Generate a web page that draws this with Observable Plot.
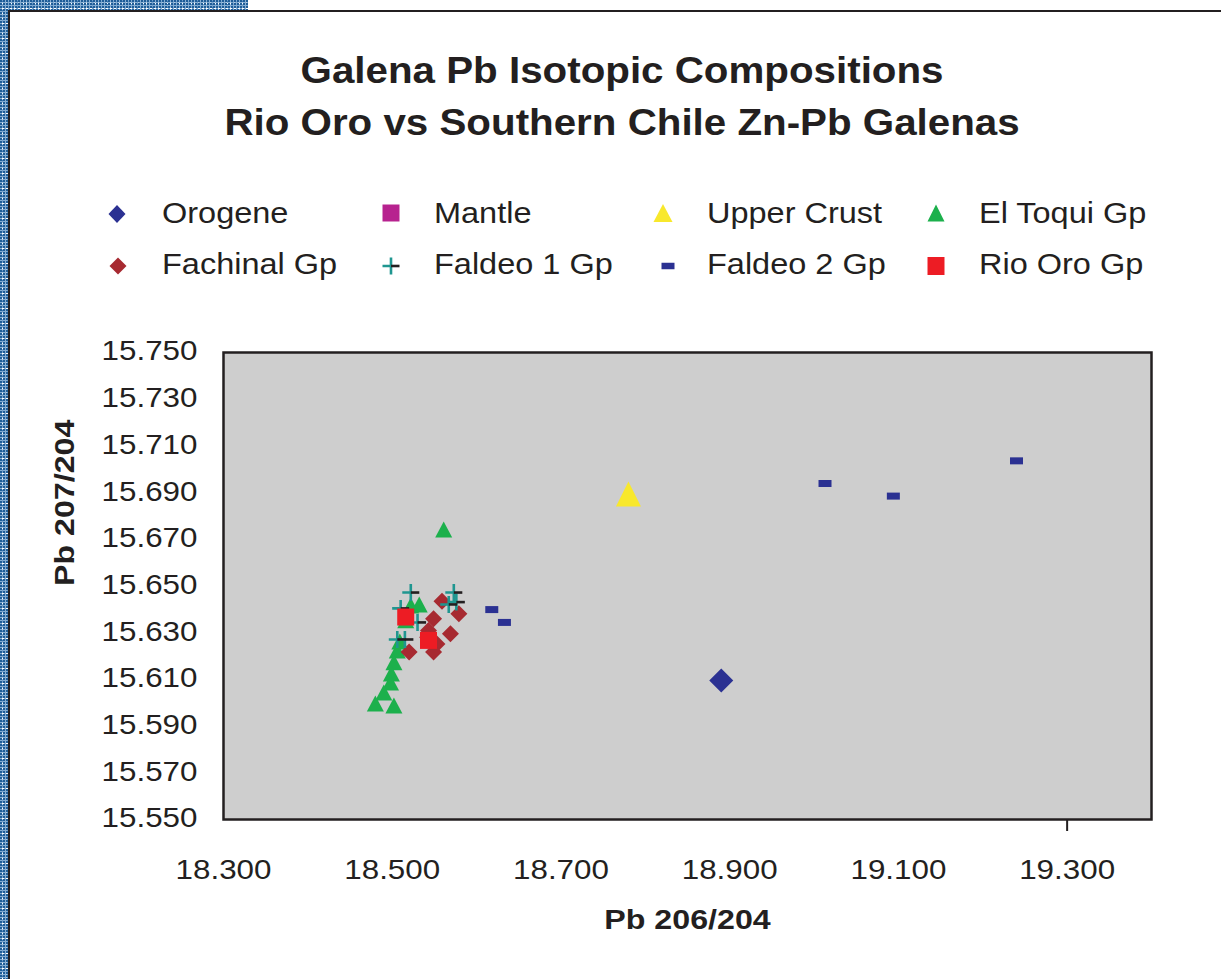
<!DOCTYPE html>
<html>
<head>
<meta charset="utf-8">
<script src="https://cdn.jsdelivr.net/npm/d3@7"></script>
<script src="https://cdn.jsdelivr.net/npm/@observablehq/plot@0.6"></script>
<style>
  html, body { margin: 0; padding: 0; background: #fff; }
  body { width: 1221px; height: 979px; position: relative; overflow: hidden;
         font-family: "Liberation Sans", Arial, Helvetica, sans-serif; color: #231f20; }
  .tex { position: absolute; background-color: #86aed3;
         background-image:
           radial-gradient(circle at 30% 30%, #1f5d98 0.9px, transparent 1.3px),
           radial-gradient(circle at 70% 70%, #ffffff 0.8px, transparent 1.2px),
           radial-gradient(circle at 50% 50%, #3d78b0 0.7px, transparent 1.1px);
         background-size: 3px 3px, 4px 5px, 5px 3px; }
  #texTop { left: 0; top: 0; width: 248px; height: 10px; }
  #texLeft { left: 0; top: 0; width: 9px; height: 979px; }
  #page { position: absolute; left: 8px; top: 10px; right: -5px; bottom: -5px;
          border-top: 2.5px solid #231f20; border-left: 2.5px solid #231f20; background: #fff; }
  #header { position: absolute; left: 0; top: 0; width: 1221px; height: 330px; }
  .tline { position: absolute; left: 11.5px; width: 1221px; text-align: center;
           font-size: 36px; line-height: 36px; font-weight: bold; white-space: nowrap; }
  .tline span { display: inline-block; transform: scaleX(1.12); transform-origin: 50% 50%; }
  .lg-text { position: absolute; font-size: 29px; line-height: 29px; white-space: nowrap;
             transform: scaleX(1.12); transform-origin: 0 50%; }
  .lg-icon { position: absolute; width: 30px; height: 30px; overflow: visible; }
  #chart { position: absolute; left: 0; top: 330px; }
</style>
</head>
<body>
<div class="tex" id="texTop"></div>
<div class="tex" id="texLeft"></div>
<div id="page"></div>
<div id="header"></div>
<div id="chart"></div>
<script>
// ---------- Data ----------
const titleLines = ["Galena Pb Isotopic Compositions", "Rio Oro vs Southern Chile Zn-Pb Galenas"];
const xLabel = "Pb 206/204";
const yLabel = "Pb 207/204";
const xTicks = [18.3, 18.5, 18.7, 18.9, 19.1, 19.3];
const yTicks = [15.55, 15.57, 15.59, 15.61, 15.63, 15.65, 15.67, 15.69, 15.71, 15.73, 15.75];
const seriesNames = ["Orogene", "Mantle", "Upper Crust", "El Toqui Gp",
                     "Fachinal Gp", "Faldeo 1 Gp", "Faldeo 2 Gp", "Rio Oro Gp"];

const orogeneX = [18.890];
const orogeneY = [15.6095];

const mantleX = [];
const mantleY = [];

const upperCrustX = [18.780];
const upperCrustY = [15.6894];

const elToquiX = [18.561, 18.532, 18.522, 18.516, 18.509, 18.506, 18.502, 18.499, 18.498, 18.490, 18.480, 18.502];
const elToquiY = [15.6742, 15.6421, 15.6417, 15.6353, 15.6262, 15.6224, 15.6173, 15.6125, 15.6087, 15.6044, 15.5997, 15.5988];

const fachinalX = [18.559, 18.579, 18.549, 18.543, 18.569, 18.542, 18.553, 18.549, 18.520];
const fachinalY = [15.6435, 15.6381, 15.6360, 15.6309, 15.6295, 15.6281, 15.6252, 15.6217, 15.6217];

const faldeo1X = [18.522, 18.573, 18.567, 18.576, 18.510, 18.530, 18.506, 18.515];
const faldeo1Y = [15.6472, 15.6472, 15.6421, 15.6431, 15.6404, 15.6344, 15.6271, 15.6271];

const faldeo2X = [19.013, 19.094, 19.240, 18.618, 18.633];
const faldeo2Y = [15.6939, 15.6885, 15.7036, 15.6399, 15.6344];

const rioOroX = [18.516, 18.543];
const rioOroY = [15.6367, 15.6267];

// ---------- Marker shapes (fixed pixel sizes) ----------
const diamond = (w, h) => ({draw(c) { c.moveTo(0, -h / 2); c.lineTo(w / 2, 0); c.lineTo(0, h / 2); c.lineTo(-w / 2, 0); c.closePath(); }});
const box = (w, h) => ({draw(c) { c.moveTo(-w / 2, -h / 2); c.lineTo(w / 2, -h / 2); c.lineTo(w / 2, h / 2); c.lineTo(-w / 2, h / 2); c.closePath(); }});
const tri = (w, h) => ({draw(c) { c.moveTo(0, -h / 2); c.lineTo(w / 2, h / 2); c.lineTo(-w / 2, h / 2); c.closePath(); }});
const plusLeft = (l) => ({draw(c) { c.moveTo(0, -l / 2); c.lineTo(0, l / 2); c.moveTo(-l / 2, 0); c.lineTo(0, 0); }});
const dashRight = (l) => ({draw(c) { c.moveTo(0, 0); c.lineTo(l / 2, 0); }});

const C = {
  orogene: "#2b3192", mantle: "#b7228f", upper: "#f8e82c", toqui: "#1cb04c",
  fachinal: "#a72a31", faldeo1: "#1f9690", faldeo2: "#2b3192", rio: "#ed1c24", ink: "#231f20"
};

const pts = (xs, ys) => xs.map((x, i) => ({x, y: ys[i]}));
const filled = (xs, ys, sym, color) => Plot.dot(pts(xs, ys), {x: "x", y: "y", symbol: sym, fill: color, stroke: "none"});
const stroked = (xs, ys, sym, color) => Plot.dot(pts(xs, ys), {x: "x", y: "y", symbol: sym, fill: "none", stroke: color, strokeWidth: 2.6});

const fmt = d => d.toFixed(3);

const chart = Plot.plot({
  width: 1221,
  height: 640,
  marginTop: 22,
  marginLeft: 223,
  marginRight: 70,
  marginBottom: 151,
  style: {background: "transparent", fontFamily: "Liberation Sans, Arial, sans-serif", fontSize: "28px", color: C.ink, overflow: "visible"},
  x: {domain: [18.3, 19.4]},
  y: {domain: [15.55, 15.75]},
  marks: [
    Plot.frame({fill: "#cecece", stroke: C.ink, strokeWidth: 2.5}),
    Plot.axisY(yTicks, {tickFormat: fmt, tickSize: 0, tickPadding: 26, fontSize: 28, dy: -1, label: null, fill: C.ink}),
    Plot.axisX(xTicks, {tickFormat: fmt, tickSize: 0, tickPadding: 40, fontSize: 28, label: null, fill: C.ink}),
    Plot.axisX([19.3], {tickSize: 12, tickFormat: () => "", stroke: C.ink, strokeWidth: 2, label: null}),
    filled(orogeneX, orogeneY, diamond(24, 24), C.orogene),
    filled(mantleX, mantleY, box(17, 17), C.mantle),
    filled(upperCrustX, upperCrustY, tri(25, 25), C.upper),
    filled(elToquiX, elToquiY, tri(17, 16), C.toqui),
    filled(fachinalX, fachinalY, diamond(17, 17), C.fachinal),
    stroked(faldeo1X, faldeo1Y, plusLeft(17), C.faldeo1),
    stroked(faldeo1X, faldeo1Y, dashRight(17), C.ink),
    filled(faldeo2X, faldeo2Y, box(13, 7), C.faldeo2),
    filled(rioOroX, rioOroY, box(17, 17), C.rio),
    Plot.text([xLabel], {frameAnchor: "bottom", dy: 109, fontWeight: "bold", fontSize: 28, fill: C.ink}),
    Plot.text([yLabel], {frameAnchor: "left", rotate: -90, dx: -158, fontWeight: "bold", fontSize: 28, fill: C.ink})
  ]
});

// widen glyphs slightly to match the reference's horizontally stretched type
chart.querySelectorAll("text").forEach(t => {
  const tr = t.getAttribute("transform");
  const isLabel = t.textContent === xLabel || t.textContent === yLabel;
  const s = isLabel ? 1.15 : 1.12;
  if (tr !== null) t.setAttribute("transform", tr + ` scale(${s},1)`);
  else {
    const x = +(t.getAttribute("x") || 0), y = +(t.getAttribute("y") || 0);
    t.setAttribute("transform", `translate(${x},${y}) scale(${s},1) translate(${-x},${-y})`);
  }
});
document.getElementById("chart").appendChild(chart);

// ---------- Header: title + legend ----------
const header = document.getElementById("header");
[52.5, 104.5].forEach((top, i) => {
  const d = document.createElement("div");
  d.className = "tline";
  d.style.top = top + "px";
  const s = document.createElement("span");
  s.textContent = titleLines[i];
  d.appendChild(s);
  header.appendChild(d);
});

const legendSym = [
  {sym: diamond(17, 18), fill: C.orogene},
  {sym: box(17, 17), fill: C.mantle},
  {sym: tri(19, 18), fill: C.upper},
  {sym: tri(17, 17), fill: C.toqui},
  {sym: diamond(17, 17), fill: C.fachinal},
  {sym: null, plus: true},
  {sym: box(13, 6.5), fill: C.faldeo2},
  {sym: box(17, 18), fill: C.rio}
];
const iconX = [117, 390.5, 663, 936, 117.5, 390.5, 668, 936];
const iconY = [213.5, 213, 213.3, 213.3, 265.7, 266, 265.7, 266];
const textX = [161.7, 434, 706.7, 978.5];
const textTop = [198.8, 250];
const NS = "http://www.w3.org/2000/svg";
seriesNames.forEach((name, i) => {
  const svg = document.createElementNS(NS, "svg");
  svg.setAttribute("class", "lg-icon");
  svg.setAttribute("viewBox", "-15 -15 30 30");
  svg.style.left = (iconX[i] - 15) + "px";
  svg.style.top = (iconY[i] - 15) + "px";
  const spec = legendSym[i];
  if (spec.plus) {
    const a = document.createElementNS(NS, "path");
    a.setAttribute("d", d3.symbol(plusLeft(17))());
    a.setAttribute("fill", "none"); a.setAttribute("stroke", C.faldeo1); a.setAttribute("stroke-width", 2.6);
    const b = document.createElementNS(NS, "path");
    b.setAttribute("d", d3.symbol(dashRight(17))());
    b.setAttribute("fill", "none"); b.setAttribute("stroke", C.ink); b.setAttribute("stroke-width", 2.6);
    svg.appendChild(a); svg.appendChild(b);
  } else {
    const p = document.createElementNS(NS, "path");
    p.setAttribute("d", d3.symbol(spec.sym)());
    p.setAttribute("fill", spec.fill);
    svg.appendChild(p);
  }
  header.appendChild(svg);
  const t = document.createElement("div");
  t.className = "lg-text";
  t.textContent = name;
  t.style.left = textX[i % 4] + "px";
  t.style.top = textTop[Math.floor(i / 4)] + "px";
  header.appendChild(t);
});
</script>
</body>
</html>
